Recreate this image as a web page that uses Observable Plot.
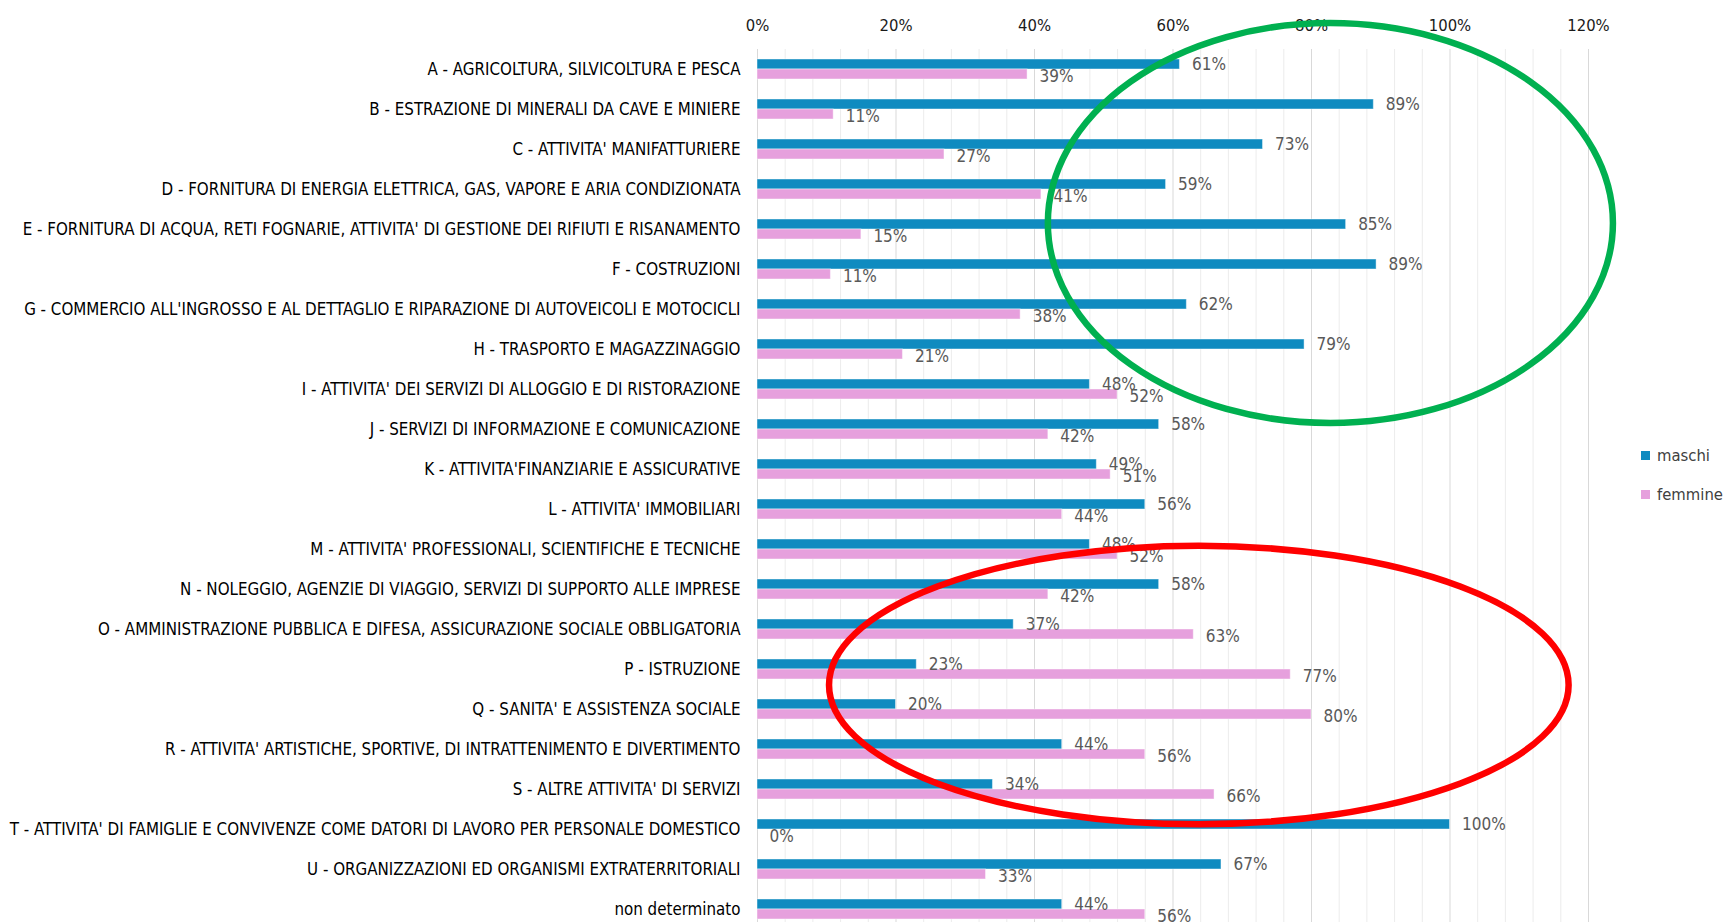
<!DOCTYPE html>
<html>
<head>
<meta charset="utf-8">
<script src="https://cdn.jsdelivr.net/npm/d3@7"></script>
<script src="https://cdn.jsdelivr.net/npm/@observablehq/plot@0.6"></script>
<style>
  html, body { margin: 0; padding: 0; background: #fff; overflow: hidden; width: 1723px; height: 922px; }
  #wrap { position: relative; width: 1723px; height: 922px; }
  .legend { position: absolute; left: 1641px; font-family: "DejaVu Sans Condensed", "Liberation Sans Narrow", sans-serif; font-size: 16.5px; color: #404040; white-space: nowrap; display: flex; align-items: center; }
  .legend span.sw { display: inline-block; width: 9px; height: 9px; margin-right: 7px; }
</style>
</head>
<body>
<div id="wrap"></div>
<script>
const categories = [
  "A - AGRICOLTURA, SILVICOLTURA E PESCA",
  "B - ESTRAZIONE DI MINERALI DA CAVE E MINIERE",
  "C - ATTIVITA' MANIFATTURIERE",
  "D - FORNITURA DI ENERGIA ELETTRICA, GAS, VAPORE E ARIA CONDIZIONATA",
  "E - FORNITURA DI ACQUA, RETI FOGNARIE, ATTIVITA' DI GESTIONE DEI RIFIUTI E RISANAMENTO",
  "F - COSTRUZIONI",
  "G - COMMERCIO ALL'INGROSSO E AL DETTAGLIO E RIPARAZIONE DI AUTOVEICOLI E MOTOCICLI",
  "H - TRASPORTO E MAGAZZINAGGIO",
  "I - ATTIVITA' DEI SERVIZI DI ALLOGGIO E DI RISTORAZIONE",
  "J - SERVIZI DI INFORMAZIONE E COMUNICAZIONE",
  "K - ATTIVITA'FINANZIARIE E ASSICURATIVE",
  "L - ATTIVITA' IMMOBILIARI",
  "M - ATTIVITA' PROFESSIONALI, SCIENTIFICHE E TECNICHE",
  "N - NOLEGGIO, AGENZIE DI VIAGGIO, SERVIZI DI SUPPORTO ALLE IMPRESE",
  "O - AMMINISTRAZIONE PUBBLICA E DIFESA, ASSICURAZIONE SOCIALE OBBLIGATORIA",
  "P - ISTRUZIONE",
  "Q - SANITA' E ASSISTENZA SOCIALE",
  "R - ATTIVITA' ARTISTICHE, SPORTIVE, DI INTRATTENIMENTO E DIVERTIMENTO",
  "S - ALTRE ATTIVITA' DI SERVIZI",
  "T - ATTIVITA' DI FAMIGLIE E CONVIVENZE COME DATORI DI LAVORO PER PERSONALE DOMESTICO",
  "U - ORGANIZZAZIONI ED ORGANISMI EXTRATERRITORIALI",
  "non determinato"
];
const maschi  = [0.61, 0.89, 0.73, 0.59, 0.85, 0.894, 0.62, 0.79, 0.48, 0.58, 0.49, 0.56, 0.48, 0.58, 0.37, 0.23, 0.20, 0.44, 0.34, 1.00, 0.67, 0.44];
const femmine = [0.39, 0.11, 0.27, 0.41, 0.15, 0.106, 0.38, 0.21, 0.52, 0.42, 0.51, 0.44, 0.52, 0.42, 0.63, 0.77, 0.80, 0.56, 0.66, 0.00, 0.33, 0.56];
const seriesNames = ["maschi", "femmine"];
const seriesColors = ["#0f8bc0", "#e6a0dd"];
const majorTicks = [0, 0.2, 0.4, 0.6, 0.8, 1.0, 1.2];
const minorTicks = [0.04, 0.08, 0.12, 0.16, 0.24, 0.28, 0.32, 0.36, 0.44, 0.48, 0.52, 0.56, 0.64, 0.68, 0.72, 0.76, 0.84, 0.88, 0.92, 0.96, 1.04, 1.08, 1.12, 1.16];
// annotation ellipses: centre x (share), centre row (index), radius x (share), radius y (rows)
const annotations = [
  { color: "#00b050", cx: 0.828, cyRow: 3.85, rx: 0.408, ryRows: 5.0 },
  { color: "#ff0000", cx: 0.638, cyRow: 15.4, rx: 0.534, ryRows: 3.48 }
];

const rowsM = categories.map((c, i) => ({ cat: c, v: maschi[i] }));
const rowsF = categories.map((c, i) => ({ cat: c, v: femmine[i] }));
const font = '"DejaVu Sans Condensed", "Liberation Sans Narrow", sans-serif';
const pct = d => Math.round(d.v * 100) + "%";

const plot = Plot.plot({
  width: 1723,
  height: 930,
  marginLeft: 757,
  marginRight: 135,
  marginTop: 49,
  marginBottom: 1,
  style: { fontFamily: font, fontSize: "16.5px", color: "#000", background: "transparent" },
  x: { domain: [0, 1.2], axis: null, label: null },
  y: { domain: categories, padding: 0, axis: null, label: null },
  marks: [
    Plot.gridX(minorTicks, { stroke: "#ececec", strokeOpacity: 1 }),
    Plot.gridX(majorTicks, { stroke: "#d9d9d9", strokeOpacity: 1 }),
    Plot.axisX(majorTicks, { anchor: "top", label: null, tickSize: 0, tickPadding: 19, tickFormat: d => Math.round(d * 100) + "%", fontSize: 16.5, fill: "#1a1a1a" }),
    Plot.axisY({ anchor: "left", label: null, tickSize: 0, tickPadding: 17, fontSize: 16.8, fill: "#000" }),
    Plot.barX(rowsM, { x: "v", y: "cat", fill: seriesColors[0], insetTop: 10, insetBottom: 20, stroke: "#ffffff", strokeOpacity: 0.45, strokeWidth: 1 }),
    Plot.barX(rowsF, { x: "v", y: "cat", fill: seriesColors[1], insetTop: 20, insetBottom: 10, stroke: "#ffffff", strokeOpacity: 0.45, strokeWidth: 1 }),
    Plot.text(rowsM, { x: "v", y: "cat", text: pct, dx: 12, dy: -5, textAnchor: "start", fill: "#595959", fontSize: 17 }),
    Plot.text(rowsF, { x: "v", y: "cat", text: pct, dx: 12, dy: 7, textAnchor: "start", fill: "#595959", fontSize: 17 })
  ]
});

document.getElementById("wrap").appendChild(plot);

// annotation ellipses positioned through the plot's scales
const xs = plot.scale("x"), ys = plot.scale("y");
const step = ys.bandwidth;
const y0 = ys.apply(categories[0]);
const svg = d3.select(plot);
annotations.forEach(a => {
  const cx = xs.apply(a.cx);
  const rx = xs.apply(a.cx + a.rx) - cx;
  const cy = y0 + step * (a.cyRow + 0.5);
  svg.append("ellipse")
    .attr("cx", cx).attr("cy", cy).attr("rx", rx).attr("ry", step * a.ryRows)
    .attr("fill", "none").attr("stroke", a.color).attr("stroke-width", 6.5);
});

// legend
const wrap = document.getElementById("wrap");
const legendY = [455, 494];
seriesNames.forEach((n, i) => {
  const d = document.createElement("div");
  d.className = "legend";
  d.style.top = (legendY[i] - 11) + "px";
  d.style.height = "22px";
  d.innerHTML = `<span class="sw" style="background:${seriesColors[i]}"></span>${n}`;
  wrap.appendChild(d);
});
</script>
</body>
</html>
